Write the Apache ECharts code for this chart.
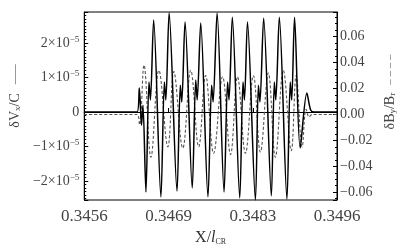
<!DOCTYPE html>
<html><head><meta charset="utf-8">
<script src="https://cdn.jsdelivr.net/npm/echarts@6/dist/echarts.min.js"></script>
<style>html,body{margin:0;padding:0;background:#fff}#c{width:415px;height:251px}</style>
</head><body><div id="c"></div>
<script>
// X positions (X / l_CR) and values
var solidX = [0.34560,0.346435,0.346471,0.346506,0.346529,0.346576,0.346624,0.346647,0.346698,
  0.346813,0.346868,0.346891,0.346943,0.347068,0.347120,0.347143,0.347195,0.347309,0.347364,0.347387,
  0.347443,0.347558,0.347616,0.347639,0.347702,0.347813,0.347868,0.347891,0.347943,0.348061,0.348112,
  0.348135,0.348183,0.348309,0.348356,0.348380,0.348439,0.348561,0.348608,0.348631,0.348687,0.348808,
  0.348860,0.348883,0.348928,0.349017,0.349123,0.349183,0.349238,0.34960];
var solidV = [0,0,0.70e-5,-0.38e-5,0.20e-5,-2.32e-5,0.87e-5,0.35e-5,2.67e-5,
  -2.46e-5,0.87e-5,0.35e-5,2.88e-5,-2.29e-5,0.78e-5,0.29e-5,2.61e-5,-2.20e-5,0.93e-5,0.35e-5,
  2.58e-5,-2.46e-5,0.78e-5,0.29e-5,2.87e-5,-2.32e-5,0.87e-5,0.35e-5,2.75e-5,-2.49e-5,0.87e-5,
  0.35e-5,2.61e-5,-2.55e-5,0.78e-5,0.29e-5,2.72e-5,-2.43e-5,0.87e-5,0.35e-5,2.75e-5,-2.52e-5,
  0.87e-5,0.35e-5,2.75e-5,-1.04e-5,0.55e-5,0.06e-5,0,0];
var dashX = [0.34560,0.346435,0.346474,0.346545,0.346655,0.346781,0.346923,0.347017,0.347159,
  0.347285,0.347411,0.347521,0.347647,0.347789,0.347915,0.348025,0.348151,0.348277,0.348387,
  0.348513,0.348624,0.348750,0.348876,0.348954,0.349049,0.349112,0.349159,0.349206,0.34960];
var dashV = [0,0,-0.008,0.038,-0.033,0.034,-0.025,0.033,-0.026,
  0.034,-0.025,0.030,-0.030,0.029,-0.031,0.029,-0.030,0.030,-0.029,
  0.032,-0.033,0.034,-0.028,0.030,-0.025,0.004,-0.002,0,0];
var xTickLabels = ['0.3456','0.3469','0.3483','0.3496'];
var leftTickMantissa = [-2,-1,0,1,2];
var rightTickLabels = ['\u22120.06','\u22120.04','\u22120.02','0.00','0.02','0.04','0.06'];

var xMin = 0.3456, xMax = 0.3496;
function zip(a,b){var r=[];for(var i=0;i<a.length;i++)r.push([a[i],b[i]]);return r;}
var F = 'Liberation Serif';
var chart = echarts.init(document.getElementById('c'), null, {renderer:'canvas'});
chart.setOption({
  animation:false,
  backgroundColor:'#fff',
  grid:{left:83,right:78,top:12,bottom:51,show:true,borderColor:'#000',borderWidth:1,containLabel:false},
  xAxis:{type:'value',min:xMin,max:xMax,interval:(xMax-xMin)/3,
    name:'{n|X/}{i|l}{s|CR}',nameLocation:'middle',nameGap:27,
    nameTextStyle:{rich:{n:{fontFamily:F,fontSize:16,color:'#333'},i:{fontFamily:F,fontStyle:'italic',fontSize:16,color:'#333'},s:{fontFamily:F,fontSize:8,color:'#333',verticalAlign:'bottom',padding:[6,0,0,0]}}},
    axisLine:{lineStyle:{color:'#000',width:1}},
    axisTick:{inside:true,length:4,lineStyle:{color:'#000'}},
    splitLine:{show:false},
    axisLabel:{margin:8,fontFamily:F,fontSize:17,color:'#444',
      formatter:function(v){return xTickLabels[Math.round((v-xMin)/((xMax-xMin)/3))];}}
  },
  yAxis:[{type:'value',min:-2.55e-5,max:2.9e-5,splitNumber:5,position:'left',
    name:'{t|\u03b4V}{s|x}{t|/C}{g|}{l|\u2014\u2014}',nameLocation:'middle',nameGap:60,nameRotate:90,
    nameTextStyle:{padding:[0,0,0,20],rich:{t:{fontFamily:F,fontSize:14,color:'#444'},s:{fontFamily:F,fontSize:9,color:'#444',verticalAlign:'bottom',padding:[5,0,0,0]},g:{width:9},l:{fontFamily:F,fontSize:10,color:'#444'}}},
    axisLine:{lineStyle:{color:'#000'}},
    axisTick:{inside:true,length:4,lineStyle:{color:'#000'}},
    minorTick:{show:true,splitNumber:10,length:2,lineStyle:{color:'#000'}},
    splitLine:{show:false},minorSplitLine:{show:false},
    axisLabel:{showMinLabel:false,showMaxLabel:false,margin:5,
      formatter:function(v){var m=Math.round(v/1e-5);
        if(leftTickMantissa.indexOf(m)<0||Math.abs(v-m*1e-5)>1e-8) return '';
        if(m===0) return '{a|0}';
        return '{a|'+(m<0?'\u2212':'')+Math.abs(m)+'\u00d710}{b|\u22125}';},
      rich:{a:{fontFamily:F,fontSize:14,color:'#444',lineHeight:16},b:{fontFamily:F,fontSize:9,color:'#444',verticalAlign:'top',lineHeight:10}}}
  },{type:'value',min:-0.066,max:0.079,splitNumber:7,position:'right',
    name:'{t|\u03b4B}{s|y}{t|/B}{s|r}{g|}{l|\u2013 \u2013 \u2013 \u2013}',nameLocation:'middle',nameGap:40,nameRotate:90,
    nameTextStyle:{padding:[0,0,0,28],rich:{t:{fontFamily:F,fontSize:14,color:'#444'},s:{fontFamily:F,fontSize:9,color:'#444',verticalAlign:'bottom',padding:[5,0,0,0]},g:{width:8},l:{fontFamily:F,fontSize:11,color:'#555'}}},
    axisLine:{lineStyle:{color:'#000'}},
    axisTick:{inside:true,length:4,lineStyle:{color:'#000'}},
    minorTick:{show:true,splitNumber:4,length:2,lineStyle:{color:'#000'}},
    splitLine:{show:false},minorSplitLine:{show:false},
    axisLabel:{showMinLabel:false,showMaxLabel:false,margin:3,fontFamily:F,fontSize:14,color:'#444',
      formatter:function(v){var k=Math.round(v/0.02);if(Math.abs(v-k*0.02)>1e-6||k<-3||k>3)return '';return rightTickLabels[k+3];}}
  }],
  series:[
    {type:'line',yAxisIndex:1,data:zip(dashX,dashV),smooth:0.4,symbol:'none',z:2,
      lineStyle:{color:'#555',width:1.1,type:[3,2]}},
    {type:'line',yAxisIndex:0,data:zip(solidX,solidV),smooth:0.3,symbol:'none',z:3,
      lineStyle:{color:'#000',width:1.5}}
  ]
});
</script></body></html>
